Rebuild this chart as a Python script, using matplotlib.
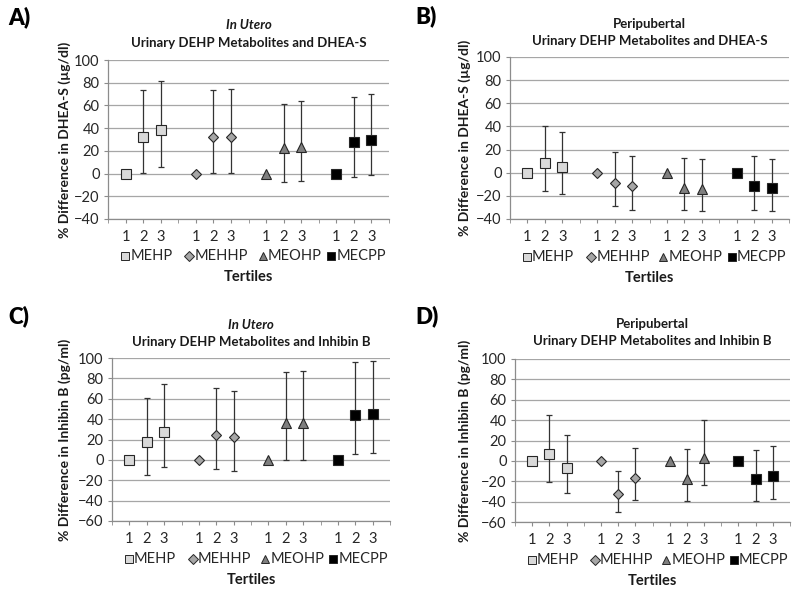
import matplotlib
matplotlib.use("Agg")
import matplotlib.pyplot as plt

plt.rcParams['font.family'] = ['Lato', 'DejaVu Sans']

metabolites = ['MEHP', 'MEHHP', 'MEOHP', 'MECPP']
tertile_labels = ['1', '2', '3']

# Panel A: In utero, DHEA-S
A_est = [[0, 31.8, 38.2], [0, 32.0, 32.6], [0, 22.6, 23.5], [0, 27.4, 30.0]]
A_lo = [[0, 0.6, 6.2], [0, 0.6, 0.6], [0, -7.0, -6.5], [0, -3.0, -1.0]]
A_hi = [[0, 74.0, 81.5], [0, 73.5, 74.4], [0, 61.5, 63.8], [0, 67.0, 70.0]]

# Panel B: Peripubertal, DHEA-S
B_est = [[0, 8.6, 5.2], [0, -8.9, -11.7], [0, -12.8, -13.9], [0, -11.4, -13.4]]
B_lo = [[0, -16.0, -18.5], [0, -29.0, -31.8], [0, -32.4, -33.3], [0, -31.8, -33.0]]
B_hi = [[0, 40.8, 35.4], [0, 18.3, 14.2], [0, 13.1, 11.9], [0, 14.2, 11.9]]

# Panel C: In utero, Inhibin B
C_est = [[0, 17.5, 27.4], [0, 24.8, 22.1], [0, 36.0, 36.3], [0, 43.9, 45.5]]
C_lo = [[0, -14.5, -7.0], [0, -8.9, -10.9], [0, -0.3, -0.3], [0, 6.0, 7.0]]
C_hi = [[0, 61.0, 74.3], [0, 71.0, 67.7], [0, 86.0, 87.0], [0, 95.7, 97.0]]

# Panel D: Peripubertal, Inhibin B
D_est = [[0, 7.2, -7.2], [0, -33.0, -16.7], [0, -18.0, 3.0], [0, -18.0, -15.3]]
D_lo = [[0, -21.0, -31.3], [0, -50.3, -38.5], [0, -38.9, -23.5], [0, -39.5, -37.5]]
D_hi = [[0, 45.0, 25.5], [0, -10.0, 12.4], [0, 11.8, 39.8], [0, 11.0, 14.7]]

panels = [
    dict(label='A)', t1='In Utero', t2='Urinary DEHP Metabolites and DHEA-S',
         ylabel='% Difference in DHEA-S (µg/dl)', ymin=-40, est=A_est, lo=A_lo, hi=A_hi,
         rect=(108, 60, 389, 219), t1y=25, t2y=43, lx=8, ly=17, ylx=65),
    dict(label='B)', t1='Peripubertal', t2='Urinary DEHP Metabolites and DHEA-S',
         ylabel='% Difference in DHEA-S (µg/dl)', ymin=-40, est=B_est, lo=B_lo, hi=B_hi,
         rect=(510, 57, 789, 219), t1y=24, t2y=41, lx=415, ly=16, ylx=465),
    dict(label='C)', t1='In Utero', t2='Urinary DEHP Metabolites and Inhibin B',
         ylabel='% Difference in Inhibin B (pg/ml)', ymin=-60, est=C_est, lo=C_lo, hi=C_hi,
         rect=(112, 358, 390, 521), t1y=325, t2y=342, lx=8, ly=316, ylx=65),
    dict(label='D)', t1='Peripubertal', t2='Urinary DEHP Metabolites and Inhibin B',
         ylabel='% Difference in Inhibin B (pg/ml)', ymin=-60, est=D_est, lo=D_lo, hi=D_hi,
         rect=(515, 359, 790, 522), t1y=324, t2y=341, lx=415, ly=316, ylx=465),
]

markers = ['s', 'D', '^', 's']
faces = ['#d9d9d9', '#a6a6a6', '#7f7f7f', '#000000']
msizes = [6.5, 5.5, 7, 6.5]
leg_sizes = [5.5, 4.8, 6, 5.5]
leg_pos = [0.06, 0.29, 0.55, 0.795]

W, H = 800, 593
fig = plt.figure(figsize=(W / 100, H / 100), dpi=100)

for p in panels:
    x0, y0, x1, y1 = p['rect']
    ax = fig.add_axes([x0 / W, 1 - y1 / H, (x1 - x0) / W, (y1 - y0) / H])
    xs_all = []
    for g, name in enumerate(metabolites):
        xs = [1 + 4 * g + t for t in range(3)]
        xs_all += xs
        est = p['est'][g]
        lo = p['lo'][g]
        hi = p['hi'][g]
        yerr = [[e - l for e, l in zip(est, lo)], [h - e for e, h in zip(est, hi)]]
        ax.errorbar(xs[1:], est[1:], yerr=[yerr[0][1:], yerr[1][1:]], fmt='none',
                    ecolor='#333333', elinewidth=0.9, capsize=2.5, capthick=0.9, zorder=3)
        ax.plot(xs, est, linestyle='none', marker=markers[g], markersize=msizes[g],
                markerfacecolor=faces[g], markeredgecolor='#262626', markeredgewidth=0.8,
                zorder=4)
    ax.set_xlim(0, 16)
    ax.set_ylim(p['ymin'], 100)
    ax.set_yticks(range(p['ymin'], 101, 20))
    ax.yaxis.grid(True, color='#a6a6a6', linewidth=0.9)
    ax.set_axisbelow(True)
    ax.set_xticks(xs_all)
    ax.set_xticklabels(tertile_labels * 4)
    ax.set_xticks([0, 4, 8, 12, 16], minor=True)
    for s in ['top', 'right']:
        ax.spines[s].set_visible(False)
    for s in ['left', 'bottom']:
        ax.spines[s].set_color('#8c8c8c')
        ax.spines[s].set_linewidth(0.9)
    ax.tick_params(axis='x', which='both', length=3, color='#8c8c8c', pad=5,
                   labelsize=10.5, labelcolor='#262626')
    ax.tick_params(axis='y', length=3, color='#8c8c8c', pad=3,
                   labelsize=10.5, labelcolor='#262626')

    # legend, drawn manually below the axis
    for g, name in enumerate(metabolites):
        ax.plot([leg_pos[g]], [-0.235], transform=ax.transAxes, clip_on=False,
                linestyle='none', marker=markers[g], markersize=leg_sizes[g],
                markerfacecolor=faces[g], markeredgecolor='#262626', markeredgewidth=0.7)
        ax.text(leg_pos[g] + 0.019, -0.235, name, transform=ax.transAxes, ha='left',
                va='center', fontsize=10.5, color='#262626')
    ax.text(0.5, -0.365, 'Tertiles', transform=ax.transAxes, ha='center', va='center',
            fontsize=10.5, fontweight='bold', color='#1a1a1a')

    cx = (x0 + x1) / 2 / W
    fig.text(cx, 1 - p['t1y'] / H, p['t1'], ha='center', va='center', fontsize=9.5,
             fontweight='bold', style='italic' if p['t1'] == 'In Utero' else 'normal',
             color='#1a1a1a')
    fig.text(cx, 1 - p['t2y'] / H, p['t2'], ha='center', va='center', fontsize=9.5,
             fontweight='bold', color='#1a1a1a')
    fig.text(p['lx'] / W, 1 - p['ly'] / H, p['label'], ha='left', va='center',
             fontsize=16, fontweight='heavy', color='#000000')
    fig.text(p['ylx'] / W, 1 - ((y0 + y1) / 2) / H, p['ylabel'], rotation=90,
             ha='center', va='center', fontsize=10, fontweight='bold', color='#1a1a1a')

fig.savefig('out.png', dpi=100, facecolor='white')
